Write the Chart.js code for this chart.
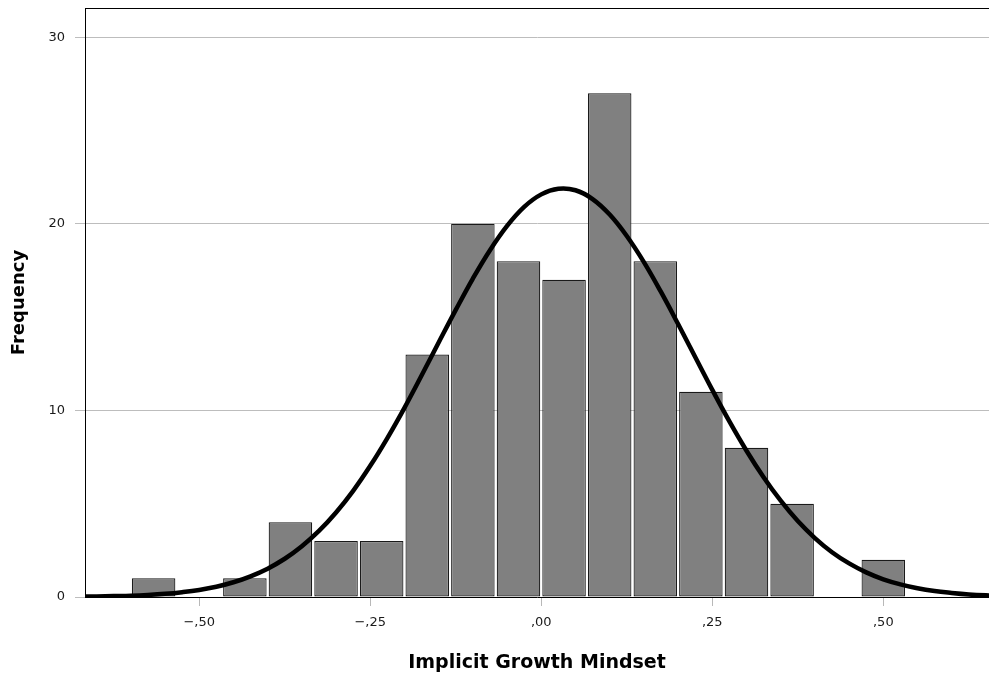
<!DOCTYPE html>
<html>
<head>
<meta charset="utf-8">
<script src="https://cdn.jsdelivr.net/npm/chart.js@4/dist/chart.umd.min.js"></script>
<style>
  html, body { margin: 0; padding: 0; background: #ffffff; }
  #wrap { width: 989px; height: 680px; }
</style>
</head>
<body>
<div id="wrap"><canvas id="c" width="989" height="680"></canvas></div>
<script>
// Histogram bins (centres) and frequencies
const binCenters = [-0.5667, -0.5, -0.4333, -0.3667, -0.3, -0.2333, -0.1667, -0.1, -0.0333, 0.0333, 0.1, 0.1667, 0.2333, 0.3, 0.3667, 0.4333, 0.5];
const frequencies = [1, 0, 1, 4, 3, 3, 13, 20, 18, 17, 27, 18, 11, 8, 5, 0, 2];

// Normal curve, values every 0.025
const curveX = [-0.700, -0.675, -0.650, -0.625, -0.600, -0.575, -0.550, -0.525, -0.500, -0.475, -0.450, -0.425, -0.400, -0.375, -0.350, -0.325, -0.300, -0.275, -0.250, -0.225, -0.200, -0.175, -0.150, -0.125, -0.100, -0.075, -0.050, -0.025, 0.000, 0.025, 0.050, 0.075, 0.100, 0.125, 0.150, 0.175, 0.200, 0.225, 0.250, 0.275, 0.300, 0.325, 0.350, 0.375, 0.400, 0.425, 0.450, 0.475, 0.500, 0.525, 0.550, 0.575, 0.600, 0.625, 0.650, 0.675, 0.700];
const curveY = [0.01, 0.02, 0.03, 0.05, 0.07, 0.11, 0.17, 0.26, 0.38, 0.55, 0.79, 1.11, 1.52, 2.05, 2.72, 3.54, 4.53, 5.69, 7.03, 8.52, 10.14, 11.87, 13.64, 15.39, 17.07, 18.59, 19.89, 20.91, 21.58, 21.88, 21.80, 21.33, 20.50, 19.35, 17.95, 16.35, 14.63, 12.86, 11.10, 9.41, 7.84, 6.42, 5.16, 4.07, 3.16, 2.40, 1.80, 1.32, 0.95, 0.68, 0.47, 0.32, 0.22, 0.14, 0.09, 0.06, 0.04];

// Tick labels
const xTickValues = [-0.5, -0.25, 0, 0.25, 0.5];
const xTickLabels = ['\u2212,50', '\u2212,25', ',00', ',25', ',50'];
const yTickValues = [0, 10, 20, 30];
const yTickLabels = ['0', '10', '20', '30'];

const xTitle = 'Implicit Growth Mindset';
const yTitle = 'Frequency';

const barData = binCenters.map((x, i) => ({ x: x, y: frequencies[i] }));
const curveData = curveX.map((x, i) => ({ x: x, y: curveY[i] }));

const topBorder = {
  id: 'topBorder',
  afterDatasetsDraw(chart) {
    const a = chart.chartArea, ctx = chart.ctx;
    ctx.save();
    ctx.strokeStyle = '#000000';
    ctx.lineWidth = 1;
    ctx.beginPath();
    ctx.moveTo(a.left, a.top + 0.5);
    ctx.lineTo(a.right, a.top + 0.5);
    ctx.stroke();
    ctx.restore();
  }
};

new Chart(document.getElementById('c'), {
  type: 'bar',
  data: {
    datasets: [
      {
        type: 'line',
        data: curveData,
        borderColor: '#000000',
        borderWidth: 4.5,
        pointRadius: 0,
        fill: false,
        tension: 0.4,
        order: 0
      },
      {
        type: 'bar',
        data: barData,
        backgroundColor: '#808080',
        borderColor: '#1a1a1a',
        borderWidth: 1.2,
        borderSkipped: false,
        inflateAmount: 0,
        barPercentage: 0.955,
        categoryPercentage: 1.0,
        order: 1
      }
    ]
  },
  plugins: [topBorder],
  options: {
    responsive: false,
    animation: false,
    devicePixelRatio: 1,
    layout: { padding: { left: 0, right: 0, top: 8, bottom: 0 } },
    plugins: { legend: { display: false }, tooltip: { enabled: false } },
    scales: {
      x: {
        type: 'linear',
        offset: false,
        min: -0.667,
        max: 0.6545,
        afterBuildTicks(scale) { scale.ticks = xTickValues.map(v => ({ value: v })); },
        afterFit(scale) { scale.height = 83; scale.paddingLeft = 0; scale.paddingRight = 0; },
        ticks: {
          autoSkip: false,
          maxRotation: 0,
          padding: 9,
          color: '#1a1a1a',
          font: { family: 'DejaVu Sans', size: 13 },
          callback(v) { const i = xTickValues.indexOf(v); return i >= 0 ? xTickLabels[i] : ''; }
        },
        grid: { offset: false, drawOnChartArea: false, drawTicks: true, tickLength: 9, color: '#b8b8b8' },
        border: { display: true, color: '#000000', width: 1 },
        title: {
          display: true,
          text: xTitle,
          color: '#000000',
          font: { family: 'DejaVu Sans', size: 19, weight: 'bold' },
          padding: { top: 0, bottom: 6 }
        }
      },
      y: {
        type: 'linear',
        min: 0,
        max: 31.57,
        afterBuildTicks(scale) { scale.ticks = yTickValues.map(v => ({ value: v })); },
        afterFit(scale) { scale.width = 85; scale.paddingTop = 0; scale.paddingBottom = 0; },
        ticks: {
          padding: 10,
          color: '#1a1a1a',
          font: { family: 'DejaVu Sans', size: 13 },
          callback(v) { const i = yTickValues.indexOf(v); return i >= 0 ? yTickLabels[i] : ''; }
        },
        grid: { drawOnChartArea: true, drawTicks: true, tickLength: 10, color: '#bdbdbd', lineWidth: 1 },
        border: { display: true, color: '#000000', width: 1 },
        title: {
          display: true,
          text: yTitle,
          color: '#000000',
          font: { family: 'DejaVu Sans', size: 18, weight: 'bold' },
          padding: { top: 9, bottom: 0 }
        }
      }
    }
  }
});
</script>
</body>
</html>
